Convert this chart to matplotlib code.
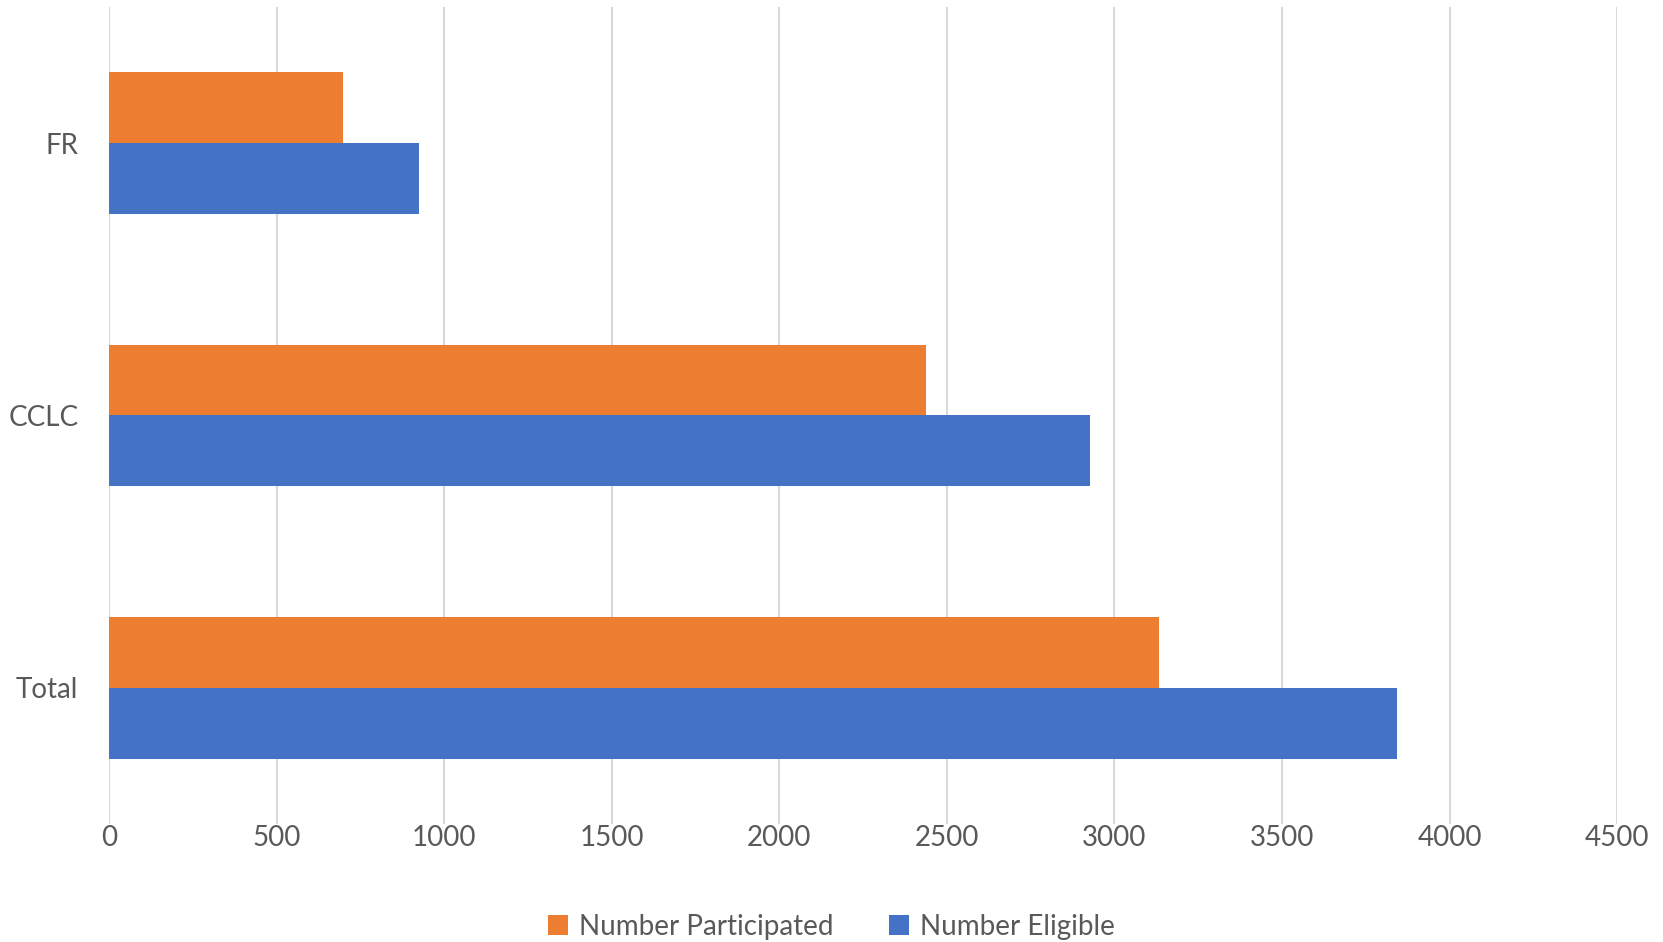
import matplotlib.pyplot as plt
import numpy as np

# data
categories = ['Total', 'CCLC', 'FR']
participated = [3134, 2437, 697]
eligible = [3843, 2926, 924]
x_ticks = [0, 500, 1000, 1500, 2000, 2500, 3000, 3500, 4000, 4500]

plt.rcParams['font.family'] = ['Lato', 'DejaVu Sans']
text_color = '#595959'

fig = plt.figure(figsize=(16.63, 9.42), dpi=100)
ax = fig.add_axes([0.0655, 0.1253, 0.907, 0.8673])

y = np.arange(len(categories))
bar_h = 0.26
ax.barh(y + bar_h / 2, participated, height=bar_h, color='#ED7D31', label='Number Participated', zorder=3)
ax.barh(y - bar_h / 2, eligible, height=bar_h, color='#4472C4', label='Number Eligible', zorder=3)

ax.set_xlim(0, 4500)
ax.set_ylim(-0.5, 2.5)
ax.set_xticks(x_ticks)
ax.set_yticks(y)
ax.set_yticklabels(categories)

ax.grid(axis='x', color='#d9d9d9', linewidth=1.5, zorder=0)
for s in ax.spines.values():
    s.set_visible(False)
ax.tick_params(axis='both', length=0, labelsize=20, colors=text_color)
ax.tick_params(axis='x', pad=1)
ax.tick_params(axis='y', pad=22)

fig.legend(loc='center', bbox_to_anchor=(0.5, 0.016), ncol=2, frameon=False,
           fontsize=20, labelcolor=text_color, handlelength=0.7, handleheight=0.7,
           handletextpad=0.4, columnspacing=2.0)

fig.savefig('out.png', dpi=100)
